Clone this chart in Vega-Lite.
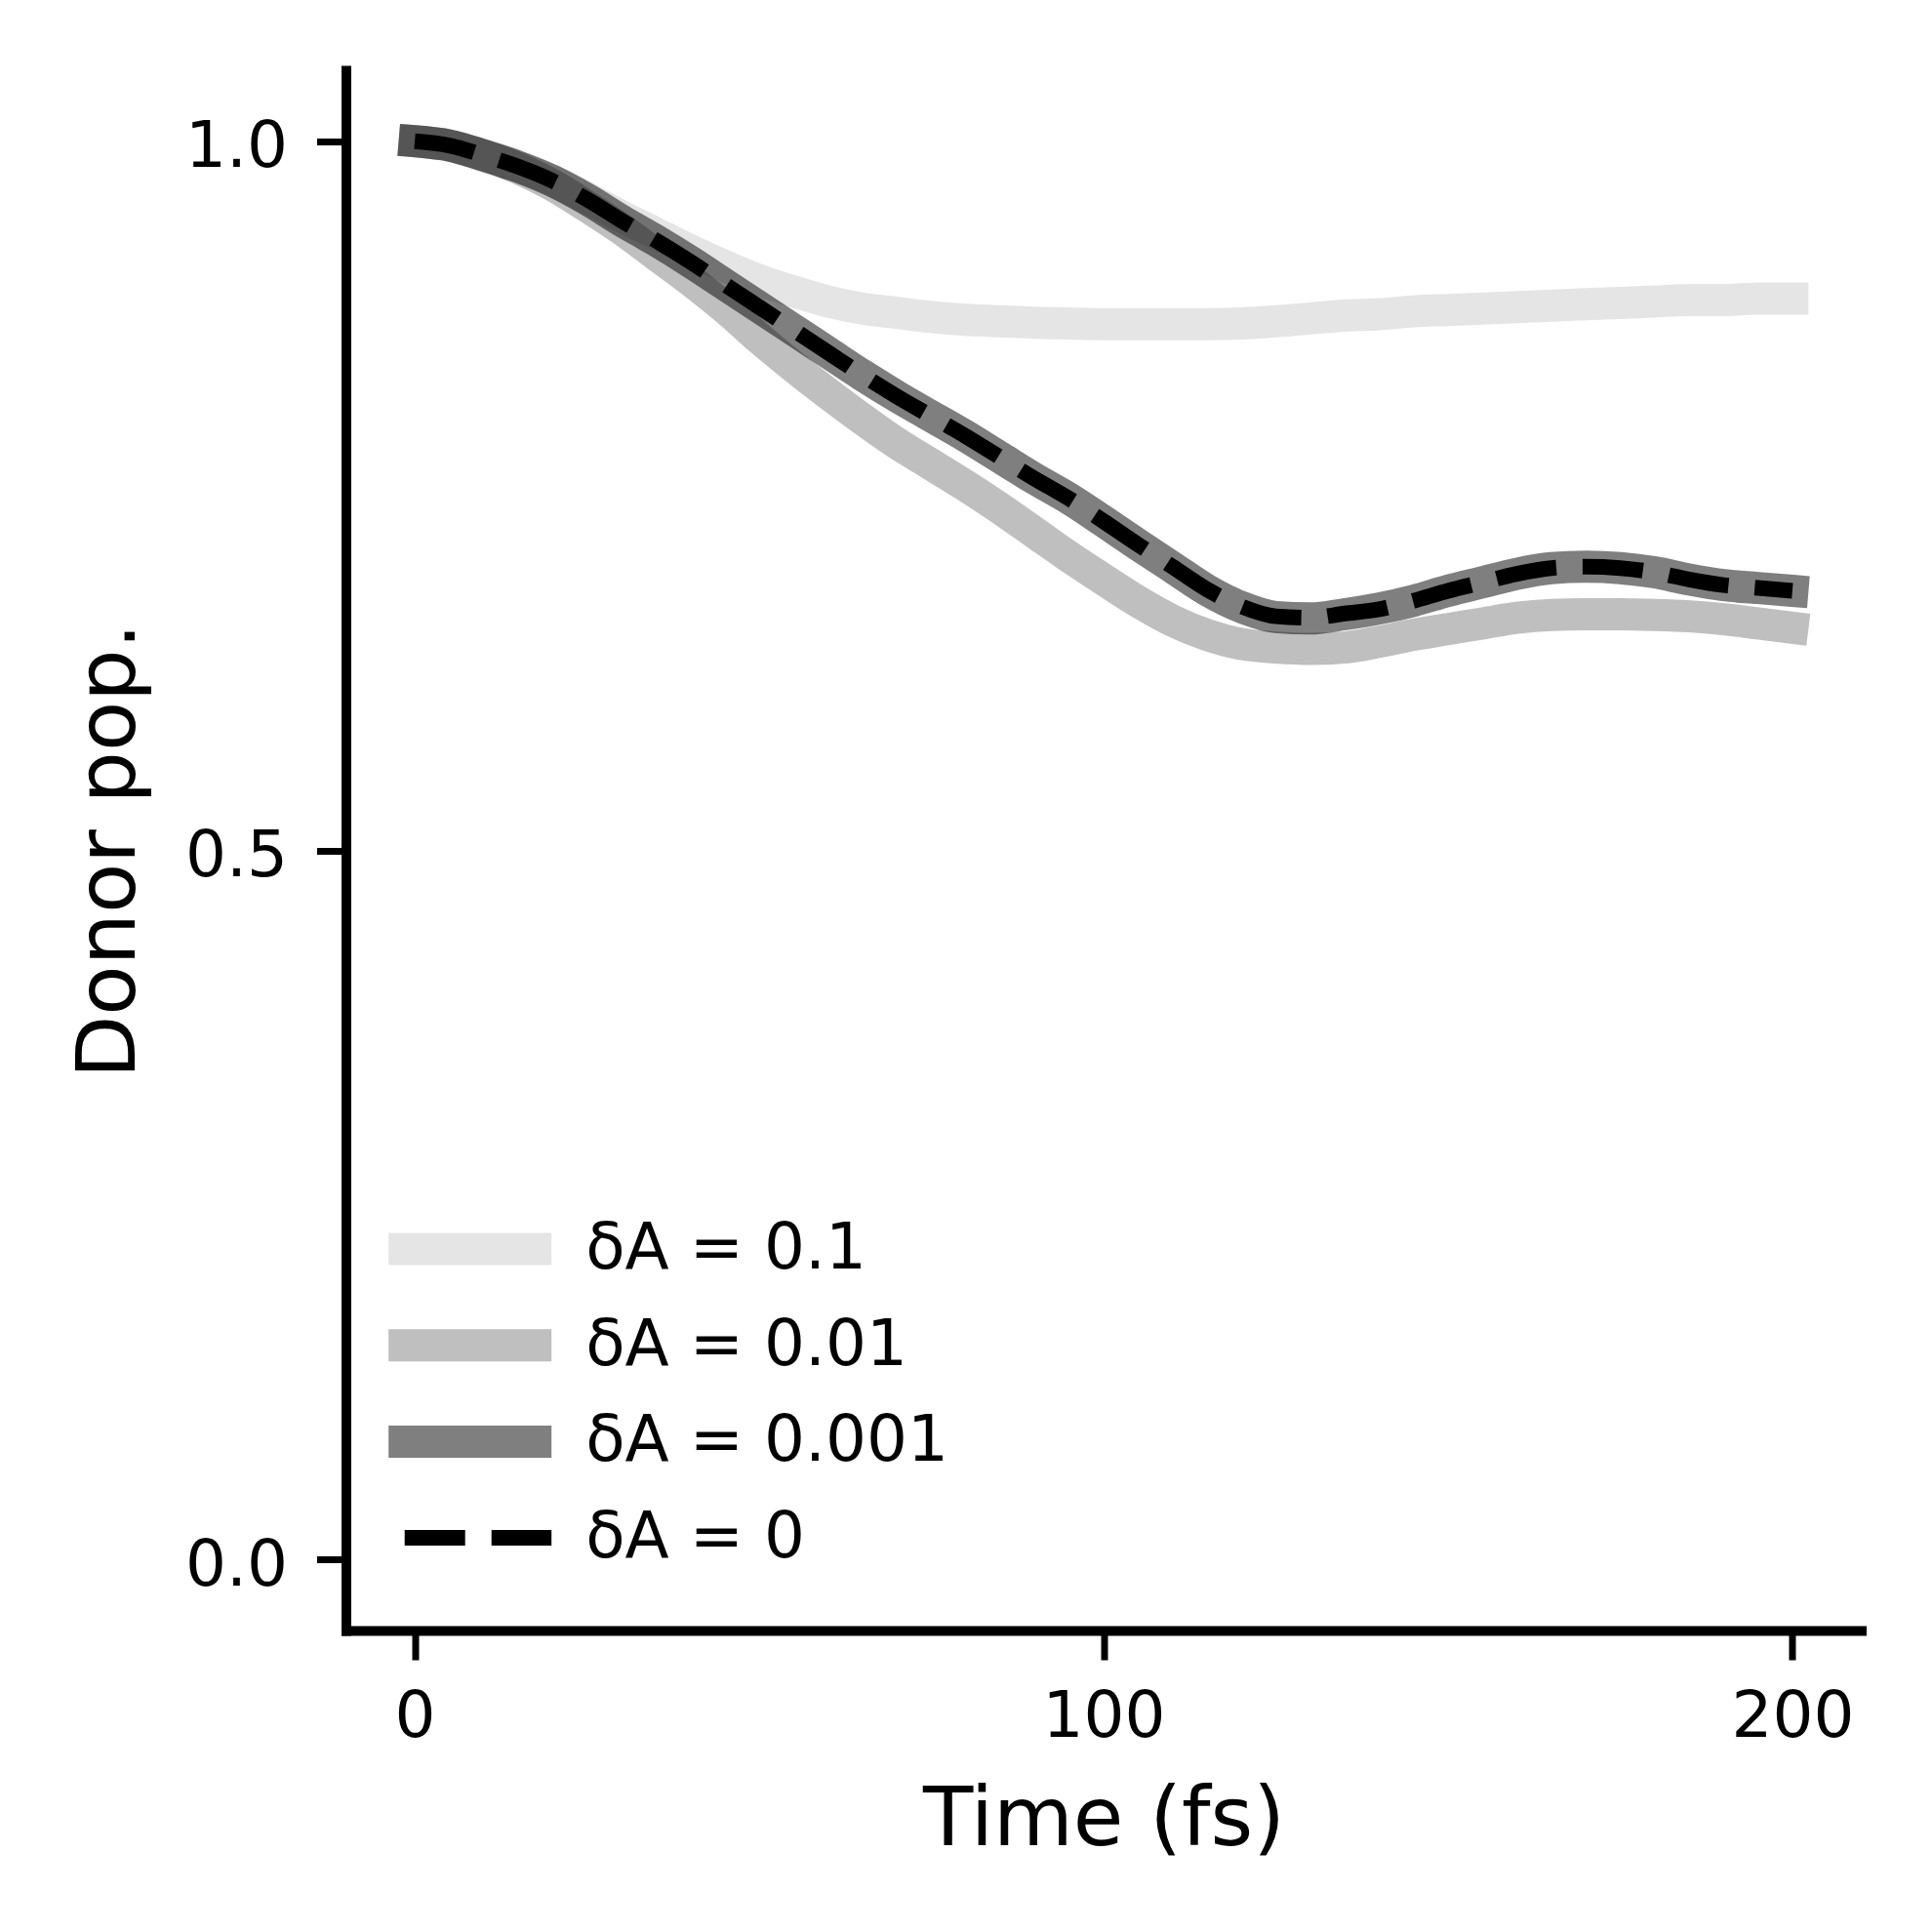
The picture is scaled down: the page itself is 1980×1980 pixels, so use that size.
{
  "$schema": "https://vega.github.io/schema/vega-lite/v6.json",
  "width": 1553,
  "height": 1599,
  "autosize": {"type": "none"},
  "padding": {"left": 354.5, "top": 72, "right": 72.5, "bottom": 309},
  "background": "white",
  "config": {
    "view": {"stroke": null},
    "font": "DejaVu Sans",
    "axis": {
      "grid": false,
      "domainColor": "#000000",
      "domainWidth": 10,
      "domainCap": "square",
      "tickColor": "#000000",
      "tickSize": 30,
      "tickWidth": 7,
      "labelFont": "DejaVu Sans",
      "labelFontSize": 66,
      "labelColor": "#000000",
      "labelFlush": false,
      "labelOverlap": false,
      "titleFont": "DejaVu Sans",
      "titleFontSize": 84,
      "titleFontWeight": "normal",
      "titleColor": "#000000"
    },
    "legend": {
      "labelFont": "DejaVu Sans",
      "labelFontSize": 66,
      "labelColor": "#000000",
      "labelLimit": 0
    }
  },
  "data": {
    "values": [
      {"series": "δA = 0.1", "t": 0, "pop": 1.0}, {"series": "δA = 0.1", "t": 5, "pop": 0.997}, {"series": "δA = 0.1", "t": 10, "pop": 0.99}, {"series": "δA = 0.1", "t": 15, "pop": 0.982}, {"series": "δA = 0.1", "t": 20, "pop": 0.972}, {"series": "δA = 0.1", "t": 25, "pop": 0.96}, {"series": "δA = 0.1", "t": 30, "pop": 0.947}, {"series": "δA = 0.1", "t": 35, "pop": 0.935}, {"series": "δA = 0.1", "t": 40, "pop": 0.923}, {"series": "δA = 0.1", "t": 45, "pop": 0.912}, {"series": "δA = 0.1", "t": 50, "pop": 0.902}, {"series": "δA = 0.1", "t": 55, "pop": 0.894}, {"series": "δA = 0.1", "t": 60, "pop": 0.887}, {"series": "δA = 0.1", "t": 65, "pop": 0.882}, {"series": "δA = 0.1", "t": 70, "pop": 0.879}, {"series": "δA = 0.1", "t": 75, "pop": 0.876}, {"series": "δA = 0.1", "t": 80, "pop": 0.874}, {"series": "δA = 0.1", "t": 85, "pop": 0.873}, {"series": "δA = 0.1", "t": 90, "pop": 0.872}, {"series": "δA = 0.1", "t": 95, "pop": 0.8715}, {"series": "δA = 0.1", "t": 100, "pop": 0.871}, {"series": "δA = 0.1", "t": 105, "pop": 0.871}, {"series": "δA = 0.1", "t": 110, "pop": 0.871}, {"series": "δA = 0.1", "t": 115, "pop": 0.871}, {"series": "δA = 0.1", "t": 120, "pop": 0.8715}, {"series": "δA = 0.1", "t": 125, "pop": 0.873}, {"series": "δA = 0.1", "t": 130, "pop": 0.875}, {"series": "δA = 0.1", "t": 135, "pop": 0.877}, {"series": "δA = 0.1", "t": 140, "pop": 0.878}, {"series": "δA = 0.1", "t": 145, "pop": 0.88}, {"series": "δA = 0.1", "t": 150, "pop": 0.881}, {"series": "δA = 0.1", "t": 155, "pop": 0.882}, {"series": "δA = 0.1", "t": 160, "pop": 0.883}, {"series": "δA = 0.1", "t": 165, "pop": 0.884}, {"series": "δA = 0.1", "t": 170, "pop": 0.885}, {"series": "δA = 0.1", "t": 175, "pop": 0.886}, {"series": "δA = 0.1", "t": 180, "pop": 0.887}, {"series": "δA = 0.1", "t": 185, "pop": 0.888}, {"series": "δA = 0.1", "t": 190, "pop": 0.888}, {"series": "δA = 0.1", "t": 195, "pop": 0.889}, {"series": "δA = 0.1", "t": 200, "pop": 0.889},

      {"series": "δA = 0.01", "t": 0, "pop": 1.0}, {"series": "δA = 0.01", "t": 5, "pop": 0.997}, {"series": "δA = 0.01", "t": 10, "pop": 0.99}, {"series": "δA = 0.01", "t": 15, "pop": 0.981}, {"series": "δA = 0.01", "t": 20, "pop": 0.969}, {"series": "δA = 0.01", "t": 25, "pop": 0.954}, {"series": "δA = 0.01", "t": 30, "pop": 0.938}, {"series": "δA = 0.01", "t": 35, "pop": 0.92}, {"series": "δA = 0.01", "t": 40, "pop": 0.902}, {"series": "δA = 0.01", "t": 45, "pop": 0.8825}, {"series": "δA = 0.01", "t": 50, "pop": 0.861}, {"series": "δA = 0.01", "t": 55, "pop": 0.841}, {"series": "δA = 0.01", "t": 60, "pop": 0.822}, {"series": "δA = 0.01", "t": 65, "pop": 0.804}, {"series": "δA = 0.01", "t": 70, "pop": 0.787}, {"series": "δA = 0.01", "t": 75, "pop": 0.772}, {"series": "δA = 0.01", "t": 80, "pop": 0.757}, {"series": "δA = 0.01", "t": 85, "pop": 0.741}, {"series": "δA = 0.01", "t": 90, "pop": 0.724}, {"series": "δA = 0.01", "t": 95, "pop": 0.707}, {"series": "δA = 0.01", "t": 100, "pop": 0.691}, {"series": "δA = 0.01", "t": 105, "pop": 0.6754}, {"series": "δA = 0.01", "t": 110, "pop": 0.662}, {"series": "δA = 0.01", "t": 115, "pop": 0.652}, {"series": "δA = 0.01", "t": 120, "pop": 0.6455}, {"series": "δA = 0.01", "t": 125, "pop": 0.643}, {"series": "δA = 0.01", "t": 130, "pop": 0.642}, {"series": "δA = 0.01", "t": 135, "pop": 0.643}, {"series": "δA = 0.01", "t": 140, "pop": 0.647}, {"series": "δA = 0.01", "t": 145, "pop": 0.652}, {"series": "δA = 0.01", "t": 150, "pop": 0.656}, {"series": "δA = 0.01", "t": 155, "pop": 0.66}, {"series": "δA = 0.01", "t": 160, "pop": 0.664}, {"series": "δA = 0.01", "t": 165, "pop": 0.666}, {"series": "δA = 0.01", "t": 170, "pop": 0.6665}, {"series": "δA = 0.01", "t": 175, "pop": 0.6665}, {"series": "δA = 0.01", "t": 180, "pop": 0.666}, {"series": "δA = 0.01", "t": 185, "pop": 0.665}, {"series": "δA = 0.01", "t": 190, "pop": 0.663}, {"series": "δA = 0.01", "t": 195, "pop": 0.66}, {"series": "δA = 0.01", "t": 200, "pop": 0.657},

      {"series": "δA = 0.001", "t": 0, "pop": 1.0}, {"series": "δA = 0.001", "t": 5, "pop": 0.997}, {"series": "δA = 0.001", "t": 10, "pop": 0.99}, {"series": "δA = 0.001", "t": 15, "pop": 0.982}, {"series": "δA = 0.001", "t": 20, "pop": 0.972}, {"series": "δA = 0.001", "t": 25, "pop": 0.959}, {"series": "δA = 0.001", "t": 30, "pop": 0.944}, {"series": "δA = 0.001", "t": 35, "pop": 0.93}, {"series": "δA = 0.001", "t": 40, "pop": 0.915}, {"series": "δA = 0.001", "t": 45, "pop": 0.899}, {"series": "δA = 0.001", "t": 50, "pop": 0.883}, {"series": "δA = 0.001", "t": 55, "pop": 0.867}, {"series": "δA = 0.001", "t": 60, "pop": 0.851}, {"series": "δA = 0.001", "t": 65, "pop": 0.835}, {"series": "δA = 0.001", "t": 70, "pop": 0.82}, {"series": "δA = 0.001", "t": 75, "pop": 0.806}, {"series": "δA = 0.001", "t": 80, "pop": 0.792}, {"series": "δA = 0.001", "t": 85, "pop": 0.777}, {"series": "δA = 0.001", "t": 90, "pop": 0.762}, {"series": "δA = 0.001", "t": 95, "pop": 0.748}, {"series": "δA = 0.001", "t": 100, "pop": 0.732}, {"series": "δA = 0.001", "t": 105, "pop": 0.7155}, {"series": "δA = 0.001", "t": 110, "pop": 0.6995}, {"series": "δA = 0.001", "t": 115, "pop": 0.6835}, {"series": "δA = 0.001", "t": 120, "pop": 0.6715}, {"series": "δA = 0.001", "t": 125, "pop": 0.6645}, {"series": "δA = 0.001", "t": 130, "pop": 0.6635}, {"series": "δA = 0.001", "t": 135, "pop": 0.6665}, {"series": "δA = 0.001", "t": 140, "pop": 0.6705}, {"series": "δA = 0.001", "t": 145, "pop": 0.676}, {"series": "δA = 0.001", "t": 150, "pop": 0.683}, {"series": "δA = 0.001", "t": 155, "pop": 0.689}, {"series": "δA = 0.001", "t": 160, "pop": 0.695}, {"series": "δA = 0.001", "t": 165, "pop": 0.699}, {"series": "δA = 0.001", "t": 170, "pop": 0.7}, {"series": "δA = 0.001", "t": 175, "pop": 0.699}, {"series": "δA = 0.001", "t": 180, "pop": 0.696}, {"series": "δA = 0.001", "t": 185, "pop": 0.691}, {"series": "δA = 0.001", "t": 190, "pop": 0.687}, {"series": "δA = 0.001", "t": 195, "pop": 0.685}, {"series": "δA = 0.001", "t": 200, "pop": 0.683},

      {"series": "δA = 0", "t": 0, "pop": 1.0}, {"series": "δA = 0", "t": 5, "pop": 0.997}, {"series": "δA = 0", "t": 10, "pop": 0.99}, {"series": "δA = 0", "t": 15, "pop": 0.982}, {"series": "δA = 0", "t": 20, "pop": 0.972}, {"series": "δA = 0", "t": 25, "pop": 0.959}, {"series": "δA = 0", "t": 30, "pop": 0.944}, {"series": "δA = 0", "t": 35, "pop": 0.93}, {"series": "δA = 0", "t": 40, "pop": 0.915}, {"series": "δA = 0", "t": 45, "pop": 0.899}, {"series": "δA = 0", "t": 50, "pop": 0.883}, {"series": "δA = 0", "t": 55, "pop": 0.867}, {"series": "δA = 0", "t": 60, "pop": 0.851}, {"series": "δA = 0", "t": 65, "pop": 0.835}, {"series": "δA = 0", "t": 70, "pop": 0.82}, {"series": "δA = 0", "t": 75, "pop": 0.806}, {"series": "δA = 0", "t": 80, "pop": 0.792}, {"series": "δA = 0", "t": 85, "pop": 0.777}, {"series": "δA = 0", "t": 90, "pop": 0.762}, {"series": "δA = 0", "t": 95, "pop": 0.748}, {"series": "δA = 0", "t": 100, "pop": 0.732}, {"series": "δA = 0", "t": 105, "pop": 0.7156}, {"series": "δA = 0", "t": 110, "pop": 0.7}, {"series": "δA = 0", "t": 115, "pop": 0.684}, {"series": "δA = 0", "t": 120, "pop": 0.672}, {"series": "δA = 0", "t": 125, "pop": 0.665}, {"series": "δA = 0", "t": 130, "pop": 0.664}, {"series": "δA = 0", "t": 135, "pop": 0.667}, {"series": "δA = 0", "t": 140, "pop": 0.67}, {"series": "δA = 0", "t": 145, "pop": 0.676}, {"series": "δA = 0", "t": 150, "pop": 0.683}, {"series": "δA = 0", "t": 155, "pop": 0.689}, {"series": "δA = 0", "t": 160, "pop": 0.695}, {"series": "δA = 0", "t": 165, "pop": 0.699}, {"series": "δA = 0", "t": 170, "pop": 0.7}, {"series": "δA = 0", "t": 175, "pop": 0.699}, {"series": "δA = 0", "t": 180, "pop": 0.696}, {"series": "δA = 0", "t": 185, "pop": 0.691}, {"series": "δA = 0", "t": 190, "pop": 0.687}, {"series": "δA = 0", "t": 195, "pop": 0.685}, {"series": "δA = 0", "t": 200, "pop": 0.683}
    ]
  },
  "encoding": {
    "x": {
      "field": "t",
      "type": "quantitative",
      "scale": {"domain": [-10, 210], "nice": false, "zero": false},
      "axis": {"values": [0, 100, 200], "title": "Time (fs)", "labelPadding": 26, "titlePadding": 32}
    },
    "y": {
      "field": "pop",
      "type": "quantitative",
      "scale": {"domain": [-0.05, 1.05], "nice": false, "zero": false},
      "axis": {"values": [0, 0.5, 1], "format": ".1f", "title": "Donor pop.", "labelPadding": 30, "labelOffset": 6, "titlePadding": 34}
    },
    "color": {
      "field": "series",
      "type": "nominal",
      "title": null,
      "scale": {
        "domain": ["δA = 0.1", "δA = 0.01", "δA = 0.001", "δA = 0"],
        "range": ["rgba(0,0,0,0.1)", "rgba(0,0,0,0.25)", "rgba(0,0,0,0.5)", "#000000"]
      },
      "legend": {
        "orient": "none",
        "legendX": 27.2,
        "legendY": 1175,
        "padding": 0,
        "symbolType": "stroke",
        "symbolSize": 27889,
        "symbolDashOffset": -16.5,
        "clipHeight": 66,
        "rowPadding": 32.7,
        "labelOffset": 18.5
      }
    },
    "strokeDash": {
      "field": "series",
      "type": "nominal",
      "title": null,
      "scale": {
        "domain": ["δA = 0.1", "δA = 0.01", "δA = 0.001", "δA = 0"],
        "range": [[5000, 0], [5000, 0], [5000, 0], [62, 27]]
      }
    },
    "strokeWidth": {
      "field": "series",
      "type": "nominal",
      "title": null,
      "scale": {
        "type": "ordinal",
        "domain": ["δA = 0.1", "δA = 0.01", "δA = 0.001", "δA = 0"],
        "range": [33, 33, 33, 16]
      }
    }
  },
  "layer": [
    {
      "transform": [{"filter": "datum.series !== 'δA = 0'"}],
      "mark": {"type": "line", "interpolate": "monotone", "strokeCap": "square", "strokeJoin": "round"}
    },
    {
      "transform": [{"filter": "datum.series === 'δA = 0'"}],
      "mark": {"type": "line", "interpolate": "monotone", "strokeCap": "butt", "strokeJoin": "round"}
    }
  ]
}
